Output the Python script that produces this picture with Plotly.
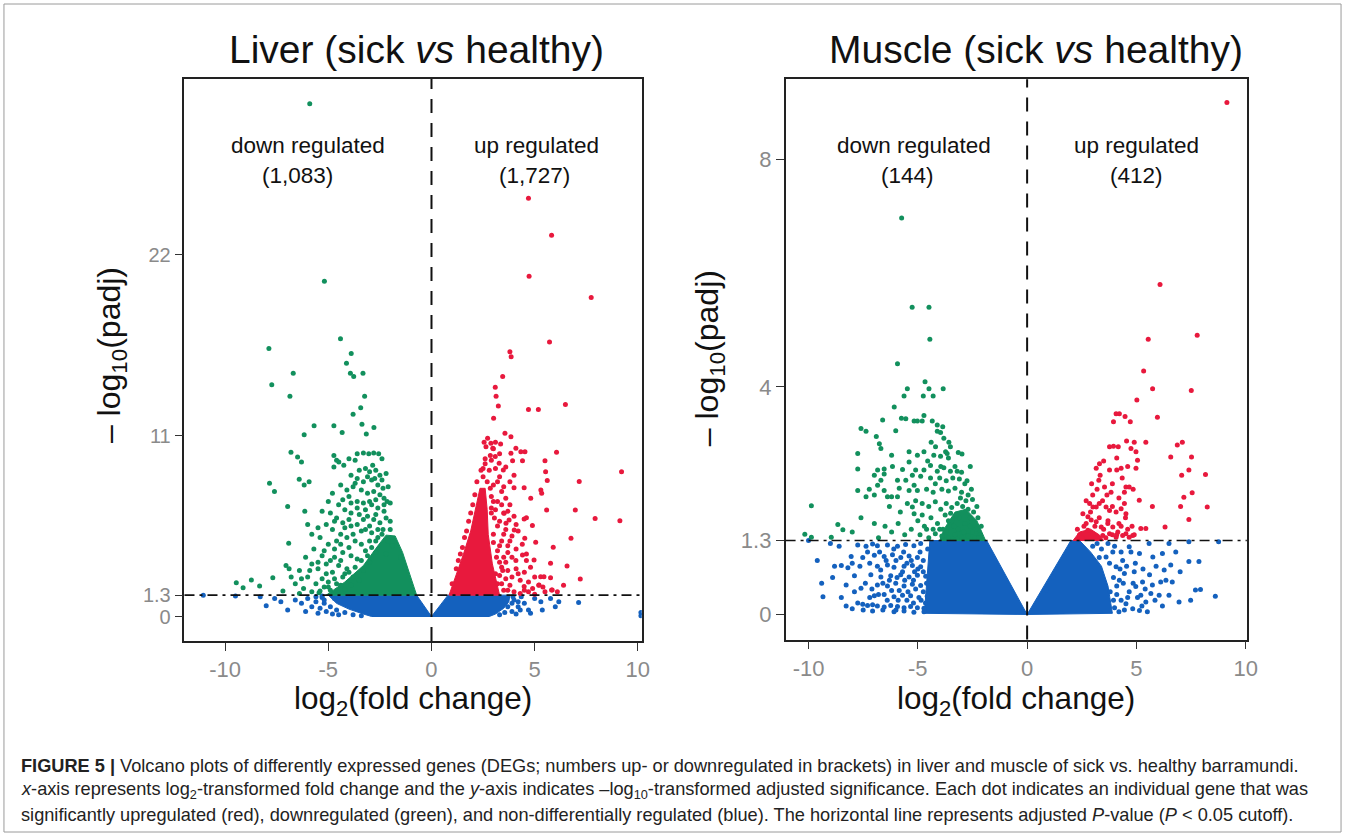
import plotly.graph_objects as go

# ---------------- data ----------------
# Liver panel: log2 fold change (x), -log10 padj (y)
LIVER_DOWN = [(-5.9,31.2),(-5.19,20.4),(-7.88,16.3),(-4.41,16.9),(-3.89,16.0),(-4.12,15.4),(-3.93,14.8),(-3.77,14.6),
(-3.32,14.8),(-6.70,14.8),(-7.74,14.1),(-6.86,13.4),(-3.24,13.4),(-3.43,12.7),(-3.80,12.3),(-5.69,11.6),(-4.73,11.6),
(-4.33,11.2),(-3.37,11.7),(-3.16,11.1),(-2.79,11.5),(-6.17,11.05),(-6.81,10.0),(-6.49,9.7),(-6.3,9.4),(-4.73,9.8),
(-4.49,9.4),(-4.73,9.1),(-4.25,9.2),(-4.0,9.6),(-3.6,9.9),(-3.3,9.95),(-3.04,9.9),(-2.8,9.95),(-2.56,9.9),(-2.85,9.2),
(-7.85,8.1),(-7.61,7.6),(-6.41,8.35),(-6.17,8.0),(-5.93,8.2),(-6.97,6.7),(-6.14,6.4),(-6.92,4.45),(-7.05,3.1),
(-7.69,2.36),(-9.46,2.06),(-8.73,2.22),(-8.33,1.86),(-9.13,1.75),(-7.2,1.55),(-6.9,2.9),
(-3.5,8.9),(-3.2,9.0),(-3.0,8.8),(-2.7,8.9),(-2.5,8.6),(-2.4,8.3),(-3.6,8.4),(-3.3,8.2),(-2.9,8.3),(-2.6,8.0),
(-3.8,7.9),(-3.4,7.7),(-3.1,7.5),(-2.8,7.6),(-2.5,7.4),(-2.3,7.2),(-4.0,7.3),(-3.6,7.0),(-3.3,6.9),(-2.9,6.8),
(-2.6,6.6),(-2.3,6.4),(-4.2,6.5),(-3.9,6.3),(-3.5,6.2),(-3.1,6.1),(-2.8,5.9),(-2.5,5.7),(-4.6,6.0),(-4.3,5.7),
(-3.9,5.5),(-3.6,5.6),(-3.2,5.3),(-2.9,5.1),(-5.1,5.6),(-4.8,5.3),(-4.4,5.0),(-4.1,4.8),(-3.7,4.6),(-3.4,4.4),
(-5.4,4.8),(-5.0,4.4),(-4.7,4.1),(-4.3,3.9),(-3.9,3.7),(-3.6,3.5),(-5.7,4.1),(-5.3,3.7),(-4.9,3.4),(-4.5,3.1),
(-4.1,2.9),(-6.1,3.6),(-5.8,3.2),(-5.5,2.9),(-5.1,2.6),(-4.7,2.3),(-6.4,2.8),(-6.0,2.4),(-5.6,2.0),(-5.2,1.8),
(-6.6,2.0),(-6.2,1.7),(-5.8,1.5),(-6.8,2.4),(-5.3,6.4),(-5.0,7.0),(-4.8,7.5),(-4.5,6.8),(-4.4,8.0),(-3.7,9.5),
(-3.9,8.6),(-2.2,8.7),(-2.4,9.6),(-4.6,9.5),(-2.1,7.9),(-2.0,6.9),(-2.2,6.0),(-2.0,5.3),(-4.9,1.6),(-4.4,1.9),
(-5.0,2.1),(-3.8,2.4),(-4.2,2.6),(-3.3,2.8),(-3.0,3.3),(-2.7,3.9),(-3.2,4.0),(-5.8,5.0),(-5.5,5.4),(-6.0,5.6),
(-4.9,6.3),(-4.0,5.9),(-3.4,5.2),(-4.6,4.6),(-5.2,4.0),(-3.0,4.6),(-2.6,4.8),(-2.35,5.3),(-5.45,1.45),(-6.4,1.4),
(-1.3,3.0),(-1.5,3.6),(-1.9,4.3),(-2.1,4.6),(-2.4,5.0),(-2.7,4.6),(-2.9,4.2),(-3.1,3.7),(-3.4,3.4),(-3.7,3.0),
(-4.0,2.7),(-4.3,2.4),(-4.6,2.0),(-5.0,1.8),(-5.4,1.55),(-3.5,2.2),(-3.9,1.9),(-4.2,1.65),(-2.2,3.8),(-2.0,5.8),
(-2.3,6.8),(-2.7,7.1),(-3.0,7.0),(-3.2,6.5),(-2.7,6.2),(-3.3,5.9),(-3.0,5.5),(-2.6,5.3),(-4.4,4.4),(-4.7,3.6),
(-5.1,3.2),(-5.5,3.3),(-5.9,2.8),(-6.3,2.3),(-5.3,2.3),(-4.8,2.7),(-4.4,3.4),(-4.0,4.2),(-3.8,5.0),(-4.2,5.4),
(-4.7,5.8),(-3.6,6.6),(-3.9,6.9),(-4.3,7.1),(-4.1,7.7),(-3.7,8.1),(-3.1,8.5),(-2.75,8.4),(-2.35,7.8),(-2.15,7.0)]
LIVER_UP = [(4.70,25.45),(5.82,23.2),(4.73,20.7),(7.74,19.4),(5.72,16.7),(3.80,16.1),(3.86,15.8),(3.45,14.6),
(3.09,13.95),(3.13,13.4),(3.24,12.8),(4.70,12.6),(5.18,12.6),(6.49,12.9),(3.01,12.06),(3.56,11.15),(3.85,10.94),
(2.72,10.85),(2.88,10.54),(2.64,10.33),(2.97,10.24),(3.85,9.93),(4.09,10.24),(4.33,10.03),(4.53,10.03),(3.93,9.48),
(4.41,9.48),(6.06,9.99),(3.09,9.73),(3.28,9.32),(3.48,8.92),(5.50,9.48),(5.53,8.81),(5.61,8.27),(9.21,8.8),(7.16,8.21),
(4.0,7.84),(4.49,7.84),(5.3,7.7),(5.34,7.5),(4.81,7.19),(5.58,6.48),(6.97,6.48),(7.93,5.97),(9.13,5.83),(4.49,5.93),
(4.6,6.01),(4.89,5.53),(3.52,6.28),(3.76,5.87),(3.61,5.67),(4.01,5.26),(4.52,4.76),(5.05,4.52),(6.76,4.76),(5.9,4.21),
(4.41,3.74),(4.09,3.4),(4.6,3.4),(4.97,3.44),(5.77,3.24),(6.57,3.07),(5.29,2.42),(5.77,2.36),(7.21,2.28),(5.82,1.61),
(2.5,9.0),(2.6,9.3),(2.9,9.5),(3.1,9.0),(3.3,8.5),(3.0,8.0),(3.4,7.6),(3.6,7.2),(3.2,7.0),(3.8,6.8),(3.5,6.3),
(3.1,6.5),(4.0,6.1),(3.3,5.8),(4.2,5.2),(3.9,4.9),(3.5,5.0),(4.4,4.4),(4.1,4.1),(3.7,4.3),(4.6,3.8),(3.9,3.6),
(4.8,3.0),(4.5,2.7),(4.1,2.9),(5.0,2.4),(4.7,2.1),(4.3,2.2),(5.2,1.9),(4.9,1.7),(4.5,1.6),(5.5,1.5),(3.6,2.3),
(3.8,1.9),(4.0,1.5),(3.4,3.0),(3.2,4.0),(3.0,5.0),(2.9,6.3),(2.9,7.3),(2.4,8.9),(2.0,6.8),(1.8,5.8),(1.6,4.8),
(1.4,3.8),(1.2,2.9),(1.0,2.0),(3.3,9.9),(3.1,10.6),(2.85,9.8),(3.2,2.0),(3.5,1.6),(3.3,2.5),(3.6,3.3),(3.4,4.6),
(3.7,3.9),(4.3,1.4),(5.0,1.35),(4.7,1.5),(5.4,1.8),(6.1,1.5),(6.4,1.9),(5.45,2.42),(5.21,1.92),(4.49,1.82),(5.85,1.61),
(1.3,3.4),(1.5,4.2),(1.7,5.2),(1.9,6.3),(2.1,7.4),(2.2,8.2),(2.5,8.5),(2.7,8.2),(2.85,7.8),(3.0,7.0),(2.9,6.6),
(3.05,6.0),(3.2,5.5),(3.0,4.5),(3.15,3.6),(3.3,3.3),(3.45,2.8),(3.1,2.6),(3.4,2.0),(3.7,1.6),(3.9,2.4),(4.2,2.6),
(3.7,2.8),(3.5,3.6),(3.8,4.6),(3.3,4.3),(3.6,5.3),(4.1,5.6),(3.4,6.8),(3.7,6.4),(3.5,7.9),(3.2,8.2),(2.8,8.9),
(2.6,9.6),(3.0,10.2),(2.55,10.6),(3.35,10.5),(3.6,9.1),(4.0,8.6),(3.8,8.2)]
LIVER_NS = [(-11.06,1.3),(-8.01,0.65),(-6.97,0.4),(-7.6,1.1),(-6.6,1.0),(-6.3,0.8),(-6.0,1.1),(-5.8,0.6),(-5.6,0.9),
(-5.4,0.5),(-5.2,0.8),(-5.1,0.3),(-5.5,0.2),(-6.1,0.3),(-7.3,0.9),(-4.8,0.15),(-4.5,0.1),(-5.3,1.15),(4.0,1.0),
(4.2,0.6),(4.5,0.8),(4.7,0.4),(5.0,1.1),(5.3,0.9),(5.37,0.4),(5.77,1.1),(6.0,0.6),(6.17,0.9),(7.13,0.85),(4.35,1.2),
(4.8,0.2),(3.9,0.3),(4.1,0.15),(10.15,0.25),(10.15,0.05),(-8.3,1.2),(-9.5,1.25),
(-5.3,1.25),(-5.2,1.0),(-4.9,0.6),(-4.6,0.4),(-4.2,0.25),(-3.8,0.1),(-3.4,0.05),(-5.6,1.2),(-4.7,1.1),(3.95,1.2),
(3.9,0.8),(3.7,0.6),(3.55,0.25),(3.3,0.1),(4.2,0.9),(4.3,0.4)]
# outlines of the densely packed (overplotted) cores
LIVER_NS_CORE = [(-5.0,1.3),(-0.72,1.3),(0,0),(0.8,1.3),(3.8,1.3),(3.75,0.9),(3.5,0.5),(3.1,0.15),(2.8,0.0),(0,0),
(-2.9,0.0),(-3.3,0.15),(-4.0,0.45),(-4.6,0.8),(-5.0,1.3)]
LIVER_DOWN_CORE = [(-0.72,1.3),(-1.05,2.6),(-1.4,3.9),(-1.76,4.9),(-2.2,4.95),(-2.6,4.3),(-3.3,3.1),(-4.2,2.1),
(-4.9,1.5),(-5.1,1.3),(-0.72,1.3)]
LIVER_UP_CORE = [(0.85,1.3),(1.2,2.5),(1.55,3.8),(1.9,5.2),(2.2,6.8),(2.35,7.8),(2.6,7.8),(2.7,6.5),(2.75,5.0),
(2.95,3.2),(3.3,1.3),(0.85,1.3)]

# Muscle panel
MUSCLE_DOWN = [(-5.74,6.97),(-5.26,5.40),(-4.49,5.40),(-4.45,4.84),(-5.93,4.41),(-4.67,4.09),(-5.48,3.97),(-4.49,3.97),
(-3.84,3.97),(-5.63,3.84),(-4.75,3.84),(-4.30,3.84),(-6.08,3.65),(-6.61,3.42),(-5.75,3.45),(-5.55,3.44),(-5.17,3.40),
(-5.02,3.40),(-4.72,3.5),(-4.80,3.4),(-4.34,3.4),(-4.11,3.33),(-3.86,3.3),(-7.6,3.27),(-7.37,3.22),(-6.01,3.23),
(-4.11,3.22),(-3.96,3.2),(-6.9,3.13),(-6.76,3.0),(-6.69,2.92),(-9.87,1.91),(-8.66,1.58),(-8.43,1.49),(-10.17,1.41),
(-9.87,1.36),(-8.96,1.36),(-6.99,1.6),(-4.39,3.03),(-4.19,2.95),(-3.81,3.1),(-3.58,3.03),(-3.51,2.95),(-3.73,2.86),
(-7.75,2.83),(-5.4,2.86),(-5.02,2.80),(-4.72,2.86),(-4.27,2.80),(-3.96,2.78),(-3.66,2.83),(-2.98,2.82),
(-7.75,2.56),(-6.84,2.54),(-6.54,2.56),(-6.16,2.6),(-5.4,2.68),(-5.1,2.54),(-4.72,2.54),(-4.42,2.62),(-4.11,2.52),
(-3.81,2.58),(-3.51,2.52),(-3.2,2.52),(-6.99,2.45),(-6.69,2.36),(-6.54,2.47),(-5.93,2.36),(-5.55,2.36),(-4.87,2.43),
(-4.42,2.4),(-4.0,2.4),(-3.7,2.35),(-3.4,2.4),(-3.1,2.38),(-2.85,2.3),(-7.75,2.18),(-7.22,2.2),(-6.84,2.27),
(-6.54,2.18),(-6.2,2.07),(-5.85,2.22),(-5.4,2.18),(-5.17,2.27),(-5.02,2.18),(-4.6,2.2),(-4.3,2.15),(-3.9,2.2),
(-3.6,2.17),(-3.3,2.22),(-3.0,2.15),(-2.7,2.1),(-2.5,2.02),(-7.37,2.07),(-6.99,2.1),(-6.39,2.07),(-5.93,2.07),
(-5.48,1.95),(-5.25,1.89),(-5.17,1.77),(-4.8,1.95),(-4.5,1.9),(-4.2,1.98),(-3.95,1.85),(-3.7,1.95),(-3.45,1.88),
(-3.2,1.95),(-2.95,1.9),(-2.7,1.85),(-2.45,1.8),(-2.25,1.7),(-6.5,1.55),(-6.2,1.45),(-5.9,1.6),(-5.6,1.4),(-5.3,1.5),
(-5.0,1.65),(-4.7,1.55),(-4.4,1.7),(-4.1,1.6),(-3.85,1.5),(-3.6,1.65),(-3.35,1.55),(-3.1,1.7),(-2.85,1.6),(-2.6,1.55),
(-2.35,1.5),(-2.15,1.4),(-4.9,1.4),(-4.5,1.35),(-4.2,1.42),(-3.9,1.38),(-3.6,1.35),(-3.3,1.4),(-3.0,1.36),(-2.7,1.38),
(-2.4,1.35),(-7.6,1.7),(-8.0,1.45),(-6.8,1.35),
(-2.1,1.55),(-2.3,1.9),(-2.55,2.2),(-2.8,2.0),(-3.05,2.05),(-3.25,1.75),(-3.5,1.78),(-3.75,1.75),(-4.0,1.5),
(-4.3,1.5),(-2.6,1.7),(-2.9,1.45),(-3.15,1.5),(-3.45,1.65),(-3.7,1.45),(-2.5,1.45),(-2.2,1.35),(-4.6,1.5),(-4.8,1.75),
(-5.1,2.0),(-4.2,2.3),(-3.95,2.6),(-3.3,2.6),(-3.6,2.75),(-3.0,2.5),(-2.75,2.35),(-2.6,2.6),(-3.15,2.85),(-4.55,2.7),
(-5.25,2.45),(-5.7,2.55),(-6.2,2.8),(-5.8,1.8),(-6.3,1.9)]
MUSCLE_UP = [(9.14,9.0),(6.08,5.80),(5.54,4.84),(7.78,4.91),(5.33,4.28),(5.74,3.97),(7.51,3.94),(5.02,3.77),
(4.07,3.53),(4.22,3.53),(4.48,3.48),(3.95,3.39),(4.72,3.39),(5.96,3.47),(3.77,2.95),(3.95,2.96),(4.17,2.95),(4.55,3.05),
(4.9,3.03),(4.75,2.92),(4.98,2.86),(5.43,3.03),(6.87,2.98),(7.1,3.03),(6.57,2.77),(7.52,2.77),(5.05,2.71),(3.31,2.65),
(3.16,2.57),(3.77,2.54),(4.1,2.54),(4.3,2.57),(4.98,2.57),(7.4,2.54),(8.16,2.46),(7.07,2.45),(3.34,2.45),(3.28,2.36),
(3.54,2.24),(3.84,2.15),(4.52,2.24),(4.67,2.24),(4.45,2.15),(5.13,2.01),(7.17,2.06),(7.55,2.14),(8.24,1.89),(5.73,1.9),
(7.02,1.9),(2.86,1.95),(3.01,1.89),(3.16,1.89),(3.61,1.89),(3.77,1.83),(4.07,1.80),(4.3,1.86),(4.45,1.95),(4.52,1.77),
(5.43,1.51),(6.31,1.54),(7.4,1.67),(2.55,1.77),(2.78,1.72),(2.93,1.66),(3.16,1.63),(3.39,1.54),(3.69,1.6),(3.92,1.54),
(4.15,1.45),(4.52,1.42),(4.83,1.39),(5.2,1.51),(2.78,1.48),(3.01,1.42),(3.46,1.39),(3.77,1.42),(4.07,1.36),(4.37,1.39),
(4.67,1.36),(2.4,1.4),(2.6,1.55),(3.6,1.35),(3.9,1.4),(4.2,1.6),(2.7,2.0),(3.0,2.1),(3.3,1.95),(4.5,1.7),(4.8,1.55),
(2.3,1.5),(2.5,1.35),(2.7,1.6),(2.9,1.8),(3.1,1.55),(3.3,1.7),(3.5,1.5),(3.7,1.65),(3.9,1.9),(4.1,1.4),(4.3,1.55),
(4.6,1.5),(4.9,1.4),(2.95,2.3),(3.2,2.2),(3.45,2.0),(3.65,2.1),(3.9,2.3),(4.2,2.05),(4.35,2.4),(4.1,2.75),(3.5,2.7),
(4.6,2.6),(4.85,2.2)]
MUSCLE_NS = [(-7.75,1.22),(-7.37,1.2),(-7.07,1.24),(-6.85,1.21),(-6.39,1.22),(-5.93,1.2),(-5.56,1.23),(-5.18,1.21),
(-4.87,1.25),(-8.05,1.02),(-7.52,1.0),(-6.99,1.04),(-6.54,1.02),(-6.16,1.05),(-5.78,1.0),(-5.4,1.03),(-5.02,1.0),
(-8.81,0.85),(-8.5,0.86),(-8.2,0.82),(-6.85,0.85),(-6.39,0.87),(-6.09,0.83),(-5.63,0.85),(-5.25,0.86),(-4.87,0.84),
(-7.9,0.68),(-7.15,0.7),(-6.69,0.66),(-6.24,0.68),(-5.78,0.7),(-5.4,0.66),(-5.02,0.69),(-4.64,0.67),(-9.4,0.55),
(-8.28,0.52),(-7.6,0.46),(-6.85,0.52),(-6.39,0.5),(-6.01,0.55),(-5.63,0.5),(-5.25,0.53),(-4.87,0.51),(-9.34,0.31),
(-6.99,0.33),(-6.54,0.35),(-6.09,0.31),(-5.7,0.34),(-5.33,0.33),(-4.95,0.3),(-4.57,0.32),(-8.28,0.15),(-7.75,0.2),
(-7.52,0.18),(-7.3,0.16),(-7.07,0.17),(-6.85,0.15),(-6.54,0.13),(-6.24,0.16),(-5.93,0.14),(-5.63,0.12),(-5.33,0.14),
(-5.02,0.12),(-4.72,0.11),(-7.07,0.06),(-6.09,0.05),(-5.63,0.06),(-5.18,0.04),(-4.72,0.05),(-6.0,0.95),(-5.7,0.75),
(-5.5,0.9),(-5.15,0.75),(-4.75,0.95),(-4.6,0.55),(-4.55,1.15),(-5.85,0.42),(-5.5,0.25),(-5.1,0.45),(-4.75,0.4),
(-6.3,0.6),(-6.7,0.78),(-7.2,0.9),(-8.6,1.2),(-9.0,1.25),(-10.0,1.3),
(-8.5,0.3),(-8.9,0.65),(-9.6,0.95),(-7.9,0.4),(-7.4,0.55),(-7.1,0.45),(-6.8,0.35),(-6.6,0.55),(-6.2,0.42),
(-5.95,0.65),(-5.6,0.6),(-5.45,0.4),(-5.2,0.6),(-5.0,0.8),(-4.85,0.25),(-4.9,1.1),(-5.3,0.95),(-5.65,1.1),(-6.1,1.15),
(-6.45,0.95),(-6.75,1.1),(-7.3,1.1),(-7.65,0.85),(-8.0,0.9),(-5.9,0.25),(-6.4,0.25),(-7.2,0.3),(-4.75,0.75),
(-4.65,0.2),(-5.2,0.2),(-6.0,0.08),(-6.6,0.08),(-7.5,0.08),(-8.0,0.1),
(4.75,1.10),(5.14,1.07),(5.75,1.01),(6.19,1.07),(6.80,1.10),(7.40,0.93),(7.86,0.93),(6.57,0.87),(6.27,0.78),(6.64,0.57),
(6.11,0.57),(5.73,0.52),(5.28,0.57),(4.97,0.49),(4.67,0.40),(5.2,0.34),(5.66,0.37),(6.04,0.34),(6.49,0.34),(5.43,0.22),
(6.19,0.15),(6.95,0.22),(7.48,0.25),(7.70,0.43),(7.93,0.44),(8.61,0.32),(4.52,0.19),(4.83,0.10),(5.14,0.07),(5.5,0.05),
(4.22,0.60),(4.45,0.72),(4.07,0.84),(3.77,0.90),(3.61,1.01),(3.92,1.10),(4.37,0.95),(4.67,1.19),(5.58,1.25),(6.49,1.25),
(7.4,1.28),(8.76,1.28),(1.19,0.66),(0.89,0.43),(4.1,0.35),(4.3,0.25),(4.0,0.12),(3.3,1.0),(3.0,1.2),(4.9,0.75),
(3.8,0.4),(3.95,0.65),(4.1,0.5),(4.25,0.8),(4.4,0.55),(4.55,0.85),(4.6,0.3),(4.85,0.55),(4.95,0.9),(5.05,0.3),
(5.3,0.8),(5.4,0.45),(5.6,0.7),(5.85,0.25),(4.3,1.1),(4.0,1.2),(3.7,1.25),(3.4,1.15),(3.2,1.25),(4.45,0.08),
(4.2,0.05),(3.95,0.25),(5.25,0.15),(5.9,0.85),(6.35,0.6),(7.0,0.75)]
MUSCLE_NS_CORE = [(-4.45,1.3),(-1.85,1.3),(0,0),(2.0,1.3),(2.4,1.3),(2.9,1.1),(3.4,0.85),(3.7,0.5),(3.9,0.02),(0,0),
(-4.7,0.02),(-4.6,0.6),(-4.45,1.3)]
MUSCLE_DOWN_CORE = [(-1.9,1.3),(-2.3,1.65),(-2.8,1.85),(-3.3,1.8),(-3.8,1.5),(-4.0,1.3),(-1.9,1.3)]
MUSCLE_UP_CORE = [(2.1,1.3),(2.4,1.45),(2.9,1.5),(3.3,1.4),(3.5,1.3),(2.1,1.3)]

X_TICKS = [-10, -5, 0, 5, 10]
LIVER_Y_TICKS = [0, 1.3, 11, 22]
MUSCLE_Y_TICKS = [0, 1.3, 4, 8]
PADJ_CUTOFF = 1.3
LIVER_COUNTS = ("1,083", "1,727")
MUSCLE_COUNTS = ("144", "412")

# ---------------- styling ----------------
W, H = 1357, 837
GREEN = "#12905d"
RED = "#e8193d"
BLUE = "#1461be"
FONT = "Liberation Sans, Arial, Helvetica, sans-serif"


def px(x):
    return x / W


def py(y):
    return 1 - y / H


def xs(pts):
    return [p[0] for p in pts]


def ys(pts):
    return [p[1] for p in pts]


fig = go.Figure()


def add_panel(xa, ya, ns_core, ns, down_core, down, up_core, up):
    for core, pts, col in ((ns_core, ns, BLUE), (down_core, down, GREEN), (up_core, up, RED)):
        fig.add_trace(go.Scatter(x=xs(core), y=ys(core), mode="lines", fill="toself", fillcolor=col,
                                 line=dict(color=col, width=1), xaxis=xa, yaxis=ya, hoverinfo="skip",
                                 showlegend=False))
        fig.add_trace(go.Scatter(x=xs(pts), y=ys(pts), mode="markers",
                                 marker=dict(color=col, size=5, line=dict(width=0)),
                                 xaxis=xa, yaxis=ya, showlegend=False))


add_panel("x", "y", LIVER_NS_CORE, LIVER_NS, LIVER_DOWN_CORE, LIVER_DOWN, LIVER_UP_CORE, LIVER_UP)
add_panel("x2", "y2", MUSCLE_NS_CORE, MUSCLE_NS, MUSCLE_DOWN_CORE, MUSCLE_DOWN, MUSCLE_UP_CORE, MUSCLE_UP)

axis_common = dict(showgrid=False, zeroline=False, showline=True, mirror=True, linecolor="#222", linewidth=1.5,
                   ticks="outside", ticklen=8, tickwidth=1, tickcolor="#333", fixedrange=True)
TICKFONT = dict(family=FONT, size=22, color="#8a8a8a")
TICKFONT_SMALL = dict(family=FONT, size=20, color="#8a8a8a")

fig.update_layout(
    width=W, height=H, margin=dict(l=0, r=0, t=0, b=0),
    paper_bgcolor="white", plot_bgcolor="white", showlegend=False,
    xaxis=dict(domain=[px(186), px(647)], range=[-11.97, 10.19], anchor="y", tickfont=TICKFONT,
               tickvals=X_TICKS, ticktext=[str(v) for v in X_TICKS], **axis_common),
    yaxis=dict(domain=[py(641), py(79)], range=[-1.49, 32.7], anchor="x", tickfont=TICKFONT_SMALL,
               tickvals=LIVER_Y_TICKS, ticktext=[str(v) for v in LIVER_Y_TICKS], **axis_common),
    xaxis2=dict(domain=[px(792), px(1257)], range=[-11.05, 10.05], anchor="y2", tickfont=TICKFONT,
                tickvals=X_TICKS, ticktext=[str(v) for v in X_TICKS], **axis_common),
    yaxis2=dict(domain=[py(639.5), py(79.3)], range=[-0.44, 9.41], anchor="x2", tickfont=TICKFONT,
                tickvals=MUSCLE_Y_TICKS, ticktext=[str(v) for v in MUSCLE_Y_TICKS], **axis_common),
)

shapes = []
for xa, ya in (("x", "y"), ("x2", "y2")):
    shapes.append(dict(type="line", xref=xa, yref=ya + " domain", x0=0, x1=0, y0=0, y1=1, layer="above",
                       line=dict(color="#111", width=2, dash="14px,10px")))
    shapes.append(dict(type="line", xref=xa + " domain", yref=ya, x0=0, x1=1, y0=PADJ_CUTOFF, y1=PADJ_CUTOFF,
                       layer="above", line=dict(color="#111", width=1.6, dash="10px,5px,3px,5px")))
# outer figure frame
shapes.append(dict(type="rect", xref="paper", yref="paper", x0=px(4), x1=px(1352), y0=py(832), y1=py(4),
                   line=dict(color="#9a9a9a", width=1)))
fig.update_layout(shapes=shapes)

ann = []


def text(x, y, s, size, color="#111", angle=0, xanchor="center", align="center"):
    ann.append(dict(x=px(x), y=py(y), xref="paper", yref="paper", text=s, showarrow=False, textangle=angle,
                    xanchor=xanchor, yanchor="middle", align=align, font=dict(family=FONT, size=size, color=color)))


text(420, 50, "Liver (sick <i>vs</i> healthy)", 39)
text(1044, 50, "Muscle (sick <i>vs</i> healthy)", 39)
text(416, 700, "log<sub>2</sub>(fold change)", 31.5)
text(1024, 700, "log<sub>2</sub>(fold change)", 31.5)
text(112, 355, "– log<sub>10</sub>(padj)", 32, angle=-90)
text(716, 358, "– log<sub>10</sub>(padj)", 32, angle=-90)
text(311, 146, "down regulated", 22.5)
text(300, 175, "(%s)" % LIVER_COUNTS[0], 22.5)
text(541, 146, "up regulated", 22.5)
text(539, 175, "(%s)" % LIVER_COUNTS[1], 22.5)
text(921, 146, "down regulated", 22.5)
text(915, 175, "(%s)" % MUSCLE_COUNTS[0], 22.5)
text(1146, 146, "up regulated", 22.5)
text(1146, 175, "(%s)" % MUSCLE_COUNTS[1], 22.5)

CAPTION = [
    "<b>FIGURE 5 |</b> Volcano plots of differently expressed genes (DEGs; numbers up- or downregulated in brackets) "
    "in liver and muscle of sick vs. healthy barramundi.",
    "<i>x</i>-axis represents log<sub>2</sub>-transformed fold change and the <i>y</i>-axis indicates "
    "–log<sub>10</sub>-transformed adjusted significance. Each dot indicates an individual gene that was",
    "significantly upregulated (red), downregulated (green), and non-differentially regulated (blue). "
    "The horizontal line represents adjusted <i>P</i>-value (<i>P</i> &lt; 0.05 cutoff).",
]
for i, line in enumerate(CAPTION):
    text(19, 766 + 24.5 * i, line, 18.2, color="#222", xanchor="left", align="left")

fig.update_layout(annotations=ann)
fig.write_html("out.html")
